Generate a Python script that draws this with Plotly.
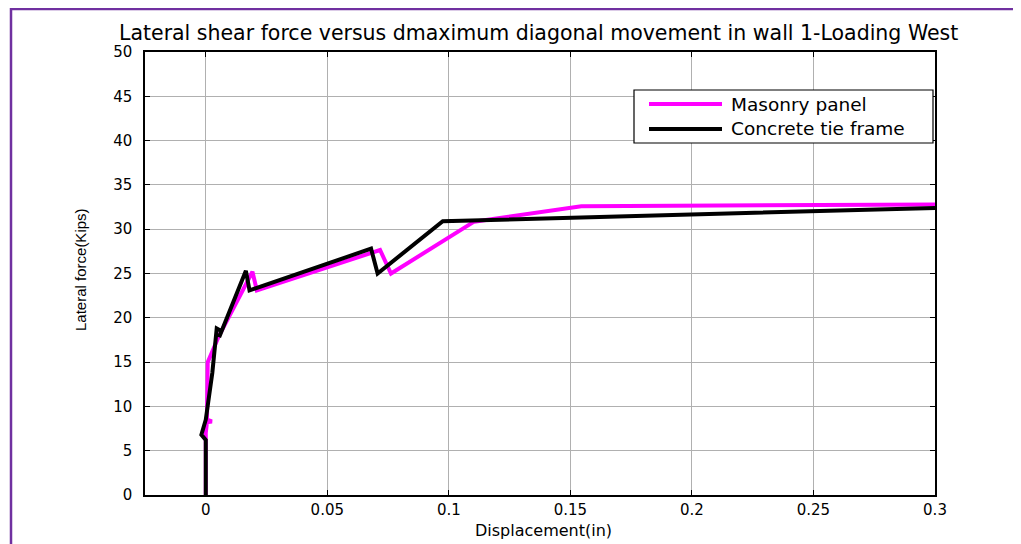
import plotly.graph_objects as go

# Data
masonry_x = [0, 0, 0.0005, 0.0025, 0.0005, 0.0008, 0.0055, 0.0192, 0.021, 0.0717, 0.0762, 0.1104, 0.1545, 0.3]
masonry_y = [0, 7.0, 8.2, 8.3, 8.5, 15.0, 18.0, 25.2, 23.1, 27.65, 25.0, 30.85, 32.6, 32.8]

concrete_x = [0, 0, -0.0018, -0.0008, 0.0, 0.0027, 0.0045, 0.0065, 0.0055, 0.0165, 0.018, 0.068, 0.0707, 0.0975, 0.3]
concrete_y = [0, 6.2, 6.8, 8.0, 8.5, 13.8, 18.8, 18.5, 17.8, 25.3, 23.1, 27.8, 25.0, 30.9, 32.4]

x_ticks = [0, 0.05, 0.1, 0.15, 0.2, 0.25, 0.3]
x_tick_labels = ["0", "0.05", "0.1", "0.15", "0.2", "0.25", "0.3"]
y_ticks = [0, 5, 10, 15, 20, 25, 30, 35, 40, 45, 50]

series_names = ["Masonry panel", "Concrete tie frame"]
series_colors = ["#ff00ff", "#000000"]

# page is rendered with an 8px body margin; compensate
OFF = 8
W, H = 1021 - OFF, 544 - OFF
L, R, T, B = 145 - OFF, 935 - OFF, 52 - OFF, 495 - OFF


def px(xp):
    return (xp - OFF - L) / (R - L)


def py(yp):
    return (B - (yp - OFF)) / (B - T)


fig = go.Figure()
fig.add_trace(go.Scatter(x=masonry_x, y=masonry_y, mode="lines", name=series_names[0],
                         line=dict(color=series_colors[0], width=4), showlegend=False))
fig.add_trace(go.Scatter(x=concrete_x, y=concrete_y, mode="lines", name=series_names[1],
                         line=dict(color=series_colors[1], width=4), showlegend=False))

font = "DejaVu Sans, Arial, sans-serif"
axis_common = dict(showline=True, linecolor="black", linewidth=1.5, mirror="ticks",
                   ticks="inside", ticklen=5, tickcolor="black", showgrid=True,
                   gridcolor="#b0b0b0", gridwidth=1, zeroline=False,
                   tickfont=dict(family=font, size=15, color="black"))

fig.update_layout(
    width=W, height=H,
    margin=dict(l=L, r=W - R, t=T, b=H - B),
    paper_bgcolor="white", plot_bgcolor="white",
    xaxis=dict(range=[-0.025, 0.3], tickvals=x_ticks, ticktext=x_tick_labels, ticklabelstandoff=0,
               **axis_common),
    yaxis=dict(range=[0, 50], tickvals=y_ticks, ticklabelstandoff=8, **axis_common),
    showlegend=False,
)

# Title
fig.add_annotation(text="Lateral shear force versus dmaximum diagonal movement in wall 1-Loading West",
                   xref="paper", yref="paper", x=px(538), y=py(33), showarrow=False,
                   xanchor="center", yanchor="middle",
                   font=dict(family=font, size=20.5, color="black"))

# X-axis title
fig.add_annotation(text="Displacement(in)", xref="paper", yref="paper", x=px(543), y=py(530),
                   showarrow=False, xanchor="center", yanchor="middle",
                   font=dict(family=font, size=16, color="black"))

# Y-axis title (condensed font)
fig.add_annotation(text="Lateral force(Kips)", xref="paper", yref="paper", x=px(80), y=py(270),
                   textangle=-90, showarrow=False, xanchor="center", yanchor="middle",
                   font=dict(family="Liberation Sans Narrow, Arial Narrow, sans-serif", size=15, color="black"))

# Outer purple frame
fig.add_shape(type="rect", xref="paper", yref="paper", x0=px(11), x1=px(1040), y0=py(570), y1=py(9),
              line=dict(color="#7030A0", width=2.5), fillcolor="rgba(0,0,0,0)", layer="above")

# Manual legend
fig.add_shape(type="rect", xref="paper", yref="paper", x0=px(634), x1=px(933), y0=py(143), y1=py(90),
              line=dict(color="black", width=1.2), fillcolor="white", layer="above")
leg_y = [104, 129]
for name, color, yy in zip(series_names, series_colors, leg_y):
    fig.add_shape(type="line", xref="paper", yref="paper", x0=px(649), x1=px(722), y0=py(yy), y1=py(yy),
                  line=dict(color=color, width=4), layer="above")
    fig.add_annotation(text=name, xref="paper", yref="paper", x=px(729), y=py(yy), xanchor="left",
                       yanchor="middle", showarrow=False, font=dict(family=font, size=18.5, color="black"))

fig.write_html("out.html")
